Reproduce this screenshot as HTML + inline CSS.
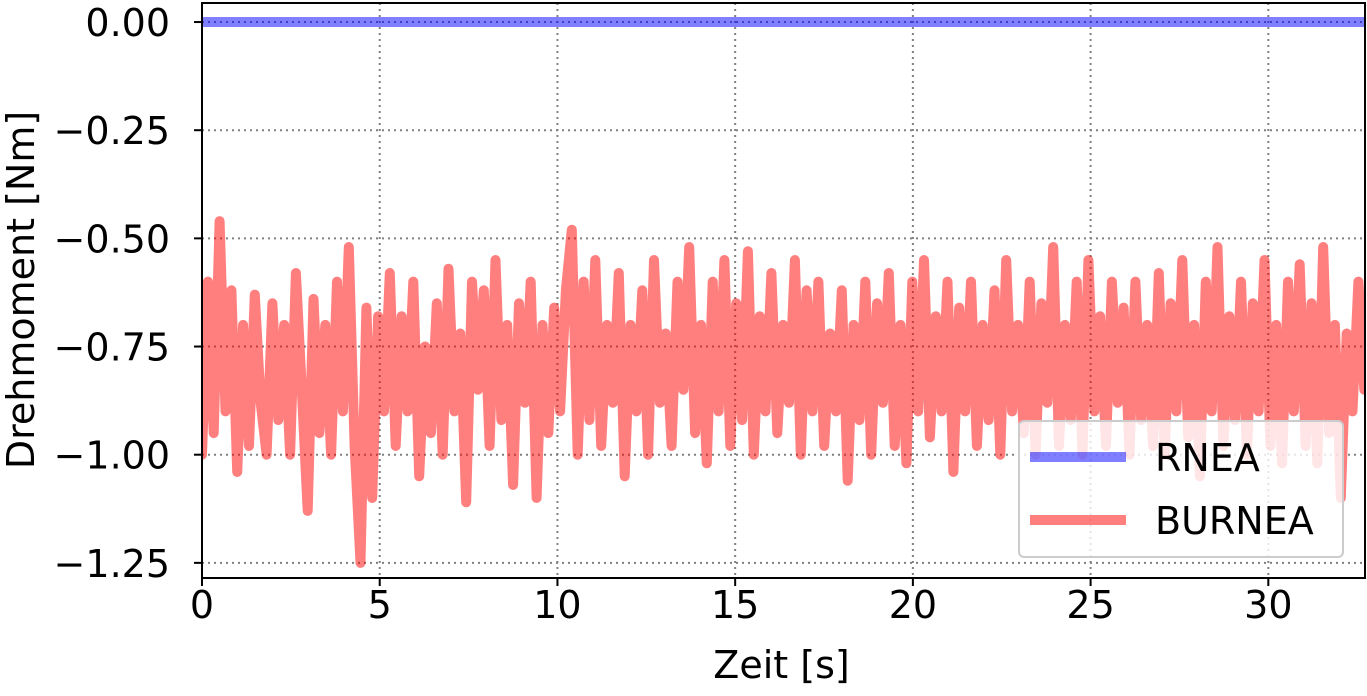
<!DOCTYPE html>
<html><head><meta charset="utf-8">
<style>
html,body{margin:0;padding:0;background:#fff;}
svg{display:block;font-family:"DejaVu Sans","Liberation Sans",sans-serif;}
</style></head>
<body>
<svg id="chart" width="1367" height="696" viewBox="0 0 1367 696"></svg>
<script>
const xTicks = [0, 5, 10, 15, 20, 25, 30];
const yTicks = [0, -0.25, -0.5, -0.75, -1.0, -1.25];
const yTickLabels = ["0.00", "\u22120.25", "\u22120.50", "\u22120.75", "\u22121.00", "\u22121.25"];
const seriesNames = ["RNEA", "BURNEA"];
const tEnd = 32.7;
const rneaValues = [0, 0];
const burneaValues = [-1.0,-0.6,-0.95,-0.46,-0.9,-0.62,-1.04,-0.7,-0.98,-0.63,-0.88,-1.0,-0.65,-0.92,-0.7,-1.0,-0.58,-0.85,-1.13,-0.64,-0.95,-0.7,-1.0,-0.6,-0.9,-0.52,-0.98,-1.25,-0.66,-1.1,-0.68,-0.9,-0.58,-0.98,-0.68,-0.9,-0.6,-1.05,-0.75,-0.95,-0.65,-1.0,-0.57,-0.9,-0.72,-1.11,-0.6,-0.85,-0.62,-0.98,-0.55,-0.92,-0.7,-1.07,-0.65,-0.88,-0.6,-1.1,-0.7,-0.95,-0.66,-0.9,-0.62,-0.48,-1.0,-0.6,-0.92,-0.55,-0.98,-0.7,-0.88,-0.58,-1.05,-0.7,-0.9,-0.62,-1.0,-0.55,-0.88,-0.72,-0.98,-0.6,-0.85,-0.52,-0.95,-0.7,-1.02,-0.6,-0.9,-0.55,-0.98,-0.65,-0.92,-0.53,-1.0,-0.68,-0.9,-0.58,-0.95,-0.7,-0.88,-0.55,-1.0,-0.62,-0.9,-0.6,-0.98,-0.72,-0.9,-0.62,-1.06,-0.7,-0.92,-0.6,-1.0,-0.65,-0.88,-0.58,-0.98,-0.7,-1.02,-0.6,-0.9,-0.55,-0.96,-0.68,-0.9,-0.6,-1.04,-0.66,-0.9,-0.6,-0.98,-0.7,-0.92,-0.62,-1.0,-0.55,-0.9,-0.7,-0.95,-0.6,-1.0,-0.65,-0.88,-0.52,-0.98,-0.7,-0.92,-0.6,-1.0,-0.55,-0.9,-0.68,-0.98,-0.6,-0.88,-0.66,-1.0,-0.6,-0.92,-0.7,-0.98,-0.58,-1.0,-0.65,-0.9,-0.55,-0.96,-0.7,-1.05,-0.6,-0.9,-0.52,-0.98,-0.68,-0.92,-0.6,-1.0,-0.65,-0.9,-0.55,-0.98,-0.7,-1.02,-0.6,-0.9,-0.56,-0.98,-0.65,-1.02,-0.52,-0.95,-0.7,-1.1,-0.72,-0.9,-0.6,-0.85];

const NS = "http://www.w3.org/2000/svg";
const svg = document.getElementById('chart');
const L = 202, R = 1365, T = 3, B = 578;
const xMin = 0, xMax = 32.72, yMin = -1.285, yMax = 0.044;
function xs(v){ return L + (v - xMin) / (xMax - xMin) * (R - L); }
function ys(v){ return B - (v - yMin) / (yMax - yMin) * (B - T); }
function mk(tag, attrs, parent){
  const e = document.createElementNS(NS, tag);
  for (const k in attrs) e.setAttribute(k, attrs[k]);
  (parent || svg).appendChild(e);
  return e;
}
const defs = mk('defs', {});
const cp = mk('clipPath', {id:'clip'}, defs);
mk('rect', {x:L, y:T, width:R-L, height:B-T}, cp);

xTicks.forEach(function(t){
  const g = mk('line', {x1:xs(t), x2:xs(t), y1:T, y2:B, stroke:'#808080', 'stroke-width':2, 'stroke-dasharray':'2,4'});
  
  
});
yTicks.forEach(function(t){
  const g = mk('line', {x1:L, x2:R, y1:ys(t), y2:ys(t), stroke:'#808080', 'stroke-width':2, 'stroke-dasharray':'2,4'});
  
  
});

const dt = tEnd / (burneaValues.length - 1);
const bpts = burneaValues.map(function(v, i){ return xs(i * dt).toFixed(1) + ',' + ys(v).toFixed(1); }).join(' ');
const bl = mk('polyline', {points:bpts, fill:'none', stroke:'#ff0000', 'stroke-opacity':0.5, 'stroke-width':10, 'stroke-linejoin':'round', 'stroke-linecap':'round', 'clip-path':'url(#clip)'});


const rpts = rneaValues.map(function(v, i){ return xs(i * tEnd / (rneaValues.length - 1)) + ',' + ys(v); }).join(' ');
const rl = mk('polyline', {points:rpts, fill:'none', stroke:'#0000ff', 'stroke-opacity':0.5, 'stroke-width':10, 'clip-path':'url(#clip)'});



const fr = mk('rect', {x:L, y:T, width:R-L, height:B-T, fill:'none', stroke:'#000', 'stroke-width':2});



xTicks.forEach(function(t){
  mk('line', {x1:xs(t), x2:xs(t), y1:B, y2:B+8, stroke:'#000', 'stroke-width':2});
  const tx = mk('text', {x:xs(t), y:B+40, 'text-anchor':'middle', 'font-size':38, fill:'#000'});
  tx.textContent = String(t);
  
  
});
yTicks.forEach(function(t, i){
  mk('line', {x1:L-8, x2:L, y1:ys(t), y2:ys(t), stroke:'#000', 'stroke-width':2});
  const tx = mk('text', {x:L-32, y:ys(t)+14, 'text-anchor':'end', 'font-size':38, fill:'#000'});
  tx.textContent = yTickLabels[i];
  
  
});
const xt = mk('text', {x:(L+R)/2 - 2, y:678, 'text-anchor':'middle', 'font-size':38, fill:'#000'});
xt.textContent = 'Zeit [s]';


const yt = mk('text', {x:0, y:0, 'text-anchor':'middle', 'font-size':38, fill:'#000', transform:'translate(34,290) rotate(-90)'});
yt.textContent = 'Drehmoment [Nm]';



const lg = mk('g', {});


mk('rect', {x:1019, y:421, width:324, height:136, rx:5, fill:'#fff', 'fill-opacity':0.8, stroke:'#cccccc', 'stroke-width':2}, lg);
const colors = ['#0000ff', '#ff0000'];
seriesNames.forEach(function(n, i){
  const e = mk('g', {}, lg);
  
  
  const y = 457 + i * 63;
  mk('line', {x1:1030, x2:1126, y1:y, y2:y, stroke:colors[i], 'stroke-opacity':0.5, 'stroke-width':10}, e);
  const tx = mk('text', {x:1155, y:y+14, 'font-size':38, fill:'#000'}, e);
  tx.textContent = n;
});
</script>
</body></html>
